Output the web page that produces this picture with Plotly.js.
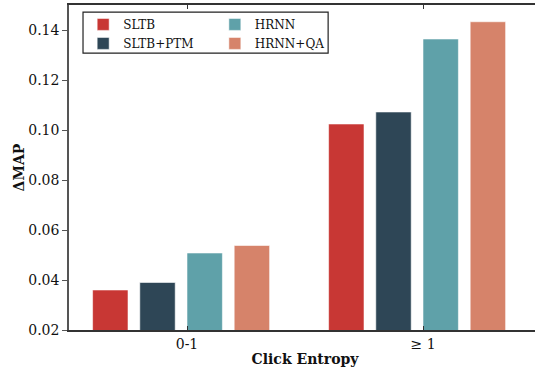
<!DOCTYPE html>
<html>
<head>
<meta charset="utf-8">
<script src="https://cdn.plot.ly/plotly-3.0.1.min.js"></script>
<style>
html,body{margin:0;padding:0;overflow:hidden;background:#fff;}
#chart{width:541px;height:371px;}
</style>
</head>
<body>
<div id="chart"></div>
<script>
const categories = ['0-1', '\u2265 1'];
const seriesNames = ['SLTB', 'SLTB+PTM', 'HRNN', 'HRNN+QA'];
const sltb = [0.0360, 0.1024];
const sltbPtm = [0.0390, 0.1072];
const hrnn = [0.0508, 0.1364];
const hrnnQa = [0.0538, 0.1433];
const yTicks = [0.02, 0.04, 0.06, 0.08, 0.10, 0.12, 0.14];

const values = [sltb, sltbPtm, hrnn, hrnnQa];
const colors = ['#c83734', '#2e4656', '#5fa1a9', '#d6836a'];
const offsets = [-0.4, -0.2, 0.0, 0.2];
const legendIds = ['legend', 'legend', 'legend2', 'legend2'];

const traces = seriesNames.map((name, i) => ({
  type: 'bar', name: name, x: categories, y: values[i],
  width: 0.15, offset: offsets[i], legend: legendIds[i],
  marker: {color: colors[i], line: {color: 'rgba(255,255,255,0.55)', width: 1}}
}));

const SERIF = 'DejaVu Serif';
const legendCommon = {
  orientation: 'v', xanchor: 'left', yanchor: 'top',
  bgcolor: 'rgba(0,0,0,0)', borderwidth: 0,
  font: {size: 12, family: SERIF, color: '#111'},
  traceorder: 'normal', tracegroupgap: 0
};
const layout = {
  width: 541, height: 371,
  margin: {l: 69, r: 0, t: 5, b: 41},
  paper_bgcolor: '#fff', plot_bgcolor: '#fff',
  barmode: 'overlay',
  showlegend: true,
  font: {family: SERIF, color: '#111'},
  xaxis: {
    type: 'category', range: [-0.5, 1.5],
    showline: true, linecolor: '#333', linewidth: 1.5, mirror: 'ticks',
    ticks: 'inside', ticklen: 4, tickcolor: '#333',
    showgrid: false, zeroline: false,
    tickfont: {size: 14, family: SERIF, color: '#111'},
    title: {text: '<b>Click Entropy</b>', font: {size: 14, family: SERIF, color: '#111'}, standoff: 4},
    automargin: false
  },
  yaxis: {
    range: [0.02, 0.15], tickvals: yTicks, tickformat: '.2f',
    showline: true, linecolor: '#555', linewidth: 1.5, mirror: false,
    ticks: 'outside', ticklen: 5, tickcolor: '#555',
    showgrid: false, zeroline: false,
    tickfont: {size: 14, family: SERIF, color: '#111'},
    title: {text: '<b>\u0394MAP</b>', font: {size: 14, family: SERIF, color: '#111'}, standoff: 0},
    automargin: false
  },
  legend: Object.assign({}, legendCommon, {x: 0.03, y: 0.985}),
  legend2: Object.assign({}, legendCommon, {x: 0.309, y: 0.985}),
  shapes: [{
    type: 'rect', xref: 'paper', yref: 'paper',
    x0: 0.0297, x1: 0.549, y0: 0.852, y1: 0.978,
    line: {color: '#222', width: 1.2}, fillcolor: '#ffffff', layer: 'above'
  }]
};

Plotly.newPlot('chart', traces, layout, {displayModeBar: false});
</script>
</body>
</html>
